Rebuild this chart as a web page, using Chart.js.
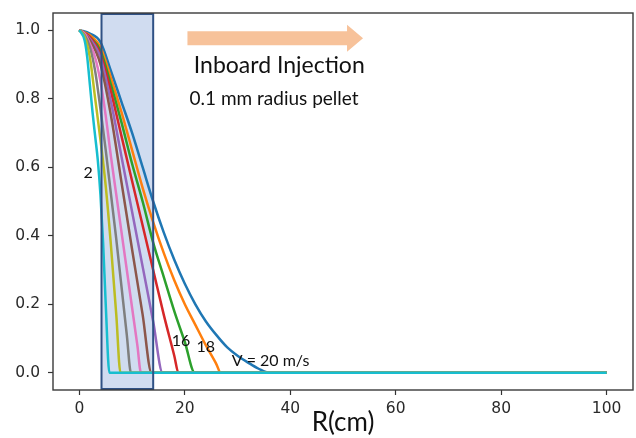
<!DOCTYPE html>
<html>
<head>
<meta charset="utf-8">
<script src="https://cdn.jsdelivr.net/npm/chart.js@4/dist/chart.umd.min.js"></script>
<style>
  html, body { margin: 0; padding: 0; background: #ffffff; }
  #wrap { width: 636px; height: 438px; }
</style>
</head>
<body>
<div id="wrap"><canvas id="c" width="636" height="438"></canvas></div>
<script>
// Normalised density profiles along the minor radius R (cm) for pellet speeds V (m/s)
const R_V2  = [0, 1, 1.5, 2, 2.5, 3, 3.5, 4, 4.5, 5, 5.7, 100];
const N_V2  = [1, 0.97, 0.92, 0.84, 0.76, 0.69, 0.62, 0.52, 0.38, 0.2, 0, 0];
const R_V4  = [0, 1, 2, 3, 4, 5, 6, 7, 7.8, 100];
const N_V4  = [1, 0.98, 0.92, 0.80, 0.68, 0.545, 0.37, 0.17, 0, 0];
const R_V6  = [0, 1, 2, 3, 4, 5, 6, 7, 8, 9, 9.8, 100];
const N_V6  = [1, 0.985, 0.95, 0.88, 0.77, 0.65, 0.52, 0.39, 0.25, 0.11, 0, 0];
const R_V8  = [0, 1, 2, 3, 4, 5, 6, 7, 8, 9, 10, 11, 11.7, 100];
const N_V8  = [1, 0.99, 0.96, 0.92, 0.85, 0.75, 0.63, 0.52, 0.41, 0.30, 0.19, 0.08, 0, 0];
const R_V10 = [0, 2, 4, 6, 8, 10, 12, 13.7, 100];
const N_V10 = [1, 0.97, 0.90, 0.75, 0.555, 0.36, 0.17, 0, 0];
const R_V12 = [0, 2, 4, 6, 8, 10, 12, 14, 15.8, 100];
const N_V12 = [1, 0.975, 0.92, 0.79, 0.63, 0.47, 0.31, 0.15, 0, 0];
const R_V14 = [0, 2, 4, 6, 8, 10, 12, 14, 16, 18, 18.8, 100];
const N_V14 = [1, 0.98, 0.93, 0.82, 0.69, 0.56, 0.43, 0.30, 0.17, 0.05, 0, 0];
const R_V16 = [0, 2, 4, 6, 8, 10, 12, 14, 16, 18, 20, 21.9, 100];
const N_V16 = [1, 0.98, 0.94, 0.84, 0.73, 0.61, 0.50, 0.38, 0.28, 0.18, 0.09, 0, 0];
const R_V18 = [0, 2, 4, 6, 8, 10, 12, 14, 16, 18, 20, 22, 24, 26, 26.8, 100];
const N_V18 = [1, 0.985, 0.95, 0.86, 0.76, 0.65, 0.54, 0.44, 0.35, 0.27, 0.20, 0.14, 0.08, 0.025, 0, 0];
const R_V20 = [0, 2, 4, 6, 8, 10, 12, 14, 16, 18, 20, 22, 24, 26, 28, 30, 32, 34, 36, 100];
const N_V20 = [1, 0.99, 0.965, 0.88, 0.79, 0.70, 0.60, 0.50, 0.41, 0.33, 0.26, 0.20, 0.15, 0.11, 0.075, 0.05, 0.03, 0.012, 0, 0];

const X_TICKS = [0, 20, 40, 60, 80, 100];
const Y_TICKS = [0.0, 0.2, 0.4, 0.6, 0.8, 1.0];

// Highlighted deposition band (cm)
const BAND = [4.2, 14.0];

// Profiles, slowest first so the V = 2 curve sits on top
const profiles = [
  { v: 2,  r: R_V2,  n: N_V2,  color: '#17becf' },
  { v: 4,  r: R_V4,  n: N_V4,  color: '#bcbd22' },
  { v: 6,  r: R_V6,  n: N_V6,  color: '#7f7f7f' },
  { v: 8,  r: R_V8,  n: N_V8,  color: '#e377c2' },
  { v: 10, r: R_V10, n: N_V10, color: '#8c564b' },
  { v: 12, r: R_V12, n: N_V12, color: '#9467bd' },
  { v: 14, r: R_V14, n: N_V14, color: '#d62728' },
  { v: 16, r: R_V16, n: N_V16, color: '#2ca02c' },
  { v: 18, r: R_V18, n: N_V18, color: '#ff7f0e' },
  { v: 20, r: R_V20, n: N_V20, color: '#1f77b4' }
];

const datasets = profiles.map(p => ({
  label: 'V = ' + p.v + ' m/s',
  data: p.r.map((r, i) => ({ x: r, y: p.n[i] })),
  borderColor: p.color,
  borderWidth: 2.5,
  pointRadius: 0,
  cubicInterpolationMode: 'monotone',
  fill: false
}));

const ANNOT_FONT = 'Lato, "Open Sans", sans-serif';

// Shaded band behind the curves
const bandFill = {
  id: 'bandFill',
  beforeDatasetsDraw(chart) {
    const { ctx, chartArea: a, scales: { x } } = chart;
    const x0 = x.getPixelForValue(BAND[0]), x1 = x.getPixelForValue(BAND[1]);
    ctx.save();
    ctx.fillStyle = 'rgba(180,199,231,0.63)';
    ctx.fillRect(x0, a.top, x1 - x0, a.bottom - a.top);
    ctx.restore();
  }
};

// Band outline, frame, arrow and labels on top
const overlay = {
  id: 'overlay',
  afterDatasetsDraw(chart) {
    const { ctx, chartArea: a, scales: { x, y } } = chart;
    ctx.save();
    // band outline
    const x0 = x.getPixelForValue(BAND[0]), x1 = x.getPixelForValue(BAND[1]);
    ctx.strokeStyle = '#2f5185';
    ctx.lineWidth = 2;
    ctx.strokeRect(x0, a.top + 1, x1 - x0, a.bottom - a.top - 2);

    // plot frame
    ctx.strokeStyle = '#3a3a3a';
    ctx.lineWidth = 1.4;
    ctx.strokeRect(a.left, a.top, a.right - a.left, a.bottom - a.top);

    // injection direction arrow
    const ax0 = x.getPixelForValue(20.5), ax1 = x.getPixelForValue(53.8);
    const ay = y.getPixelForValue(0.976);
    const headLen = 16, shaftH = 7, headH = 13.5;
    ctx.fillStyle = '#f7c29a';
    ctx.beginPath();
    ctx.moveTo(ax0, ay - shaftH);
    ctx.lineTo(ax1 - headLen, ay - shaftH);
    ctx.lineTo(ax1 - headLen, ay - headH);
    ctx.lineTo(ax1, ay);
    ctx.lineTo(ax1 - headLen, ay + headH);
    ctx.lineTo(ax1 - headLen, ay + shaftH);
    ctx.lineTo(ax0, ay + shaftH);
    ctx.closePath();
    ctx.fill();

    // text labels
    ctx.fillStyle = '#111111';
    ctx.textAlign = 'left';
    ctx.textBaseline = 'alphabetic';
    ctx.font = '23px ' + ANNOT_FONT;
    ctx.fillText('Inboard Injection', x.getPixelForValue(21.7), y.getPixelForValue(0.874));
    ctx.font = '19px ' + ANNOT_FONT;
    ctx.fillText('0.1 mm radius pellet', x.getPixelForValue(20.9), y.getPixelForValue(0.781));

    ctx.textBaseline = 'middle';
    ctx.font = '16px ' + ANNOT_FONT;
    ctx.fillText('2', x.getPixelForValue(0.8), y.getPixelForValue(0.585));
    ctx.fillText('16', x.getPixelForValue(17.5), y.getPixelForValue(0.094));
    ctx.fillText('18', x.getPixelForValue(22.2), y.getPixelForValue(0.076));
    ctx.fillText('V = 20 m/s', x.getPixelForValue(28.9), y.getPixelForValue(0.035));
    ctx.restore();
  }
};

new Chart(document.getElementById('c'), {
  type: 'line',
  data: { datasets },
  plugins: [bandFill, overlay],
  options: {
    responsive: false,
    animation: false,
    events: [],
    layout: { padding: { top: 13, right: 3, left: 0, bottom: 0 } },
    plugins: { legend: { display: false }, tooltip: { enabled: false } },
    scales: {
      x: {
        type: 'linear',
        min: -5, max: 105,
        afterBuildTicks: s => { s.ticks = X_TICKS.map(v => ({ value: v })); },
        afterFit: s => { s.height = 48; s.paddingLeft = 0; s.paddingRight = 0; },
        border: { display: false },
        grid: { drawOnChartArea: false, drawTicks: true, tickLength: 5, tickColor: '#333', tickWidth: 1.2 },
        ticks: { color: '#2a2a2a', padding: 5, maxRotation: 0,
                 font: { family: '"DejaVu Sans", sans-serif', size: 15.5 },
                 callback: v => String(v) },
        title: { display: true, text: 'R(cm)', color: '#111', padding: { top: 0, bottom: 0 },
                 font: { family: ANNOT_FONT, size: 26 } }
      },
      y: {
        type: 'linear',
        min: -0.05, max: 1.05,
        afterBuildTicks: s => { s.ticks = Y_TICKS.map(v => ({ value: v })); },
        afterFit: s => { s.width = 53; s.paddingTop = 0; s.paddingBottom = 0; },
        border: { display: false },
        grid: { drawOnChartArea: false, drawTicks: true, tickLength: 5, tickColor: '#333', tickWidth: 1.2 },
        ticks: { color: '#2a2a2a', padding: 8,
                 font: { family: '"DejaVu Sans", sans-serif', size: 15.5 },
                 callback: v => Number(v).toFixed(1) }
      }
    }
  }
});
</script>
</body>
</html>
